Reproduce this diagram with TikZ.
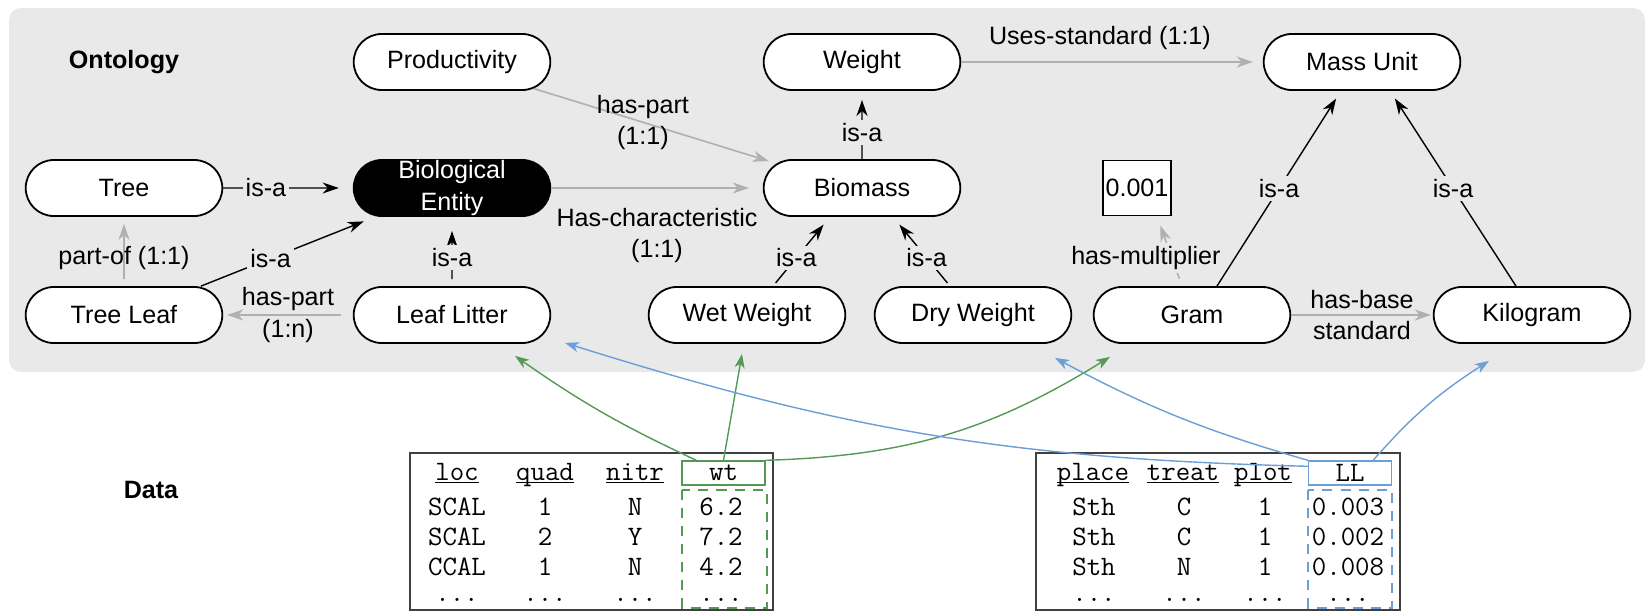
\documentclass[tikz,border=0pt]{standalone}
\usepackage{fontspec}
\setmainfont{Liberation Sans}
\usetikzlibrary{arrows.meta,shapes.misc,calc}

\definecolor{panelgray}{RGB}{233,233,233}
\definecolor{relgray}{RGB}{176,176,176}
\definecolor{mapgreen}{RGB}{84,154,84}
\definecolor{mapblue}{RGB}{108,158,216}

\newcommand{\diagfont}{\fontsize{12.5}{15.5}\selectfont}
\newcommand{\cellfont}{\fontsize{14}{16}\selectfont\ttfamily}

\tikzset{
  concept/.style={draw, line width=0.9pt, rounded rectangle, fill=white,
    minimum width=3.675cm, minimum height=0.98cm, inner ysep=0.5pt, align=center},
  isa/.style={black, line width=0.7pt, -{Stealth[length=8pt,width=5.5pt,inset=2.5pt]}},
  rel/.style={relgray, line width=0.8pt, -{Stealth[length=8pt,width=5.5pt,inset=2.5pt]}},
  lbl/.style={fill=panelgray, text=black, inner sep=1.5pt},
  reltext/.style={text=black, align=center, inner sep=1.5pt},
  maplink/.style={line width=0.7pt, -{Stealth[length=7pt,width=5pt,inset=2pt]}},
  cell/.style={font=\cellfont, anchor=base, inner sep=0pt},
  headbox/.style={draw, line width=0.7pt, font=\cellfont,
    minimum width=1.45cm, minimum height=0.42cm, inner sep=0pt},
  colbox/.style={line width=0.8pt, dash pattern=on 5pt off 4pt},
  frame/.style={line width=0.8pt, black!75}
}

\begin{document}
\begin{tikzpicture}[x=0.0175cm, y=0.0175cm, font=\diagfont]

\useasboundingbox (0,0) rectangle (1649,-612);
\fill[panelgray, rounded corners=6pt] (9,-8) rectangle (1645,-372);

\node[font=\diagfont\bfseries] (ontolabel) at (124,-62) {Ontology};
\node[font=\diagfont\bfseries] (datalabel) at (151,-490) {Data};

% ontology concepts
\node[concept] (prod) at (452,-62) {Productivity};
\node[concept] (weight) at (862,-62) {Weight};
\node[concept] (massunit) at (1362,-62) {Mass Unit};
\node[concept] (tree) at (124,-188) {Tree};
\node[concept, fill=black, text=white, inner ysep=0pt] (bioent) at (452,-188) {Biological\\Entity};
\node[concept] (biomass) at (862,-188) {Biomass};
\node[draw, fill=white, line width=0.7pt, minimum width=1.19cm, minimum height=0.96cm, inner sep=0pt] (mult) at (1137,-188) {0.001};
\node[concept] (treeleaf) at (124,-315) {Tree Leaf};
\node[concept] (litter) at (452,-315) {Leaf Litter};
\node[concept] (wetw) at (747,-315) {Wet Weight};
\node[concept] (dryw) at (973,-315) {Dry Weight};
\node[concept] (gram) at (1192,-315) {Gram};
\node[concept] (kilo) at (1532,-315) {Kilogram};

% relations
\draw[isa, shorten >=7pt] (tree) -- node[lbl, pos=0.33] {is-a} (bioent);
\draw[isa, shorten >=6pt] ($(treeleaf.north)+(77,0)$) -- node[lbl, pos=0.4] {is-a} ($(bioent.south)+(-77,0)$);
\draw[isa, shorten <=3.5pt, shorten >=7pt] (litter) -- node[lbl, pos=0.41] {is-a} (bioent);
\draw[rel, shorten <=3.5pt, shorten >=3.5pt] (treeleaf) -- node[reltext, pos=0.41] {part-of (1:1)} (tree);
\draw[rel, shorten <=6pt, shorten >=2pt] (litter) -- node[reltext, pos=0.5] {has-part\\(1:n)} (treeleaf);
\draw[rel, shorten >=4pt] (prod.-18) -- node[reltext, pos=0.45] {has-part\\(1:1)} (biomass.164);
\draw[rel, shorten >=7pt] (bioent) -- node[reltext, below=8pt, pos=0.5] {Has-characteristic\\(1:1)} (biomass);
\draw[isa, shorten >=4.5pt] (biomass) -- node[lbl, pos=0.39] {is-a} (weight);
\draw[isa, shorten <=2pt, shorten >=5pt] ($(wetw.north)+(26,0)$) -- node[lbl, pos=0.41] {is-a} ($(biomass.south)+(-32,0)$);
\draw[isa, shorten <=2pt, shorten >=5pt] ($(dryw.north)+(-23,0)$) -- node[lbl, pos=0.41] {is-a} ($(biomass.south)+(31,0)$);
\draw[rel, shorten >=5pt] (weight) -- node[reltext, above=4pt, pos=0.46] {Uses-standard (1:1)} (massunit);
\draw[isa, shorten >=4.5pt] ($(gram.north)+(25,0)$) -- node[lbl, pos=0.5] {is-a} ($(massunit.south)+(-21,0)$);
\draw[isa, shorten >=4.5pt] ($(kilo.north)+(-16,0)$) -- node[lbl, pos=0.5] {is-a} ($(massunit.south)+(28,0)$);
\draw[rel, shorten <=4pt, shorten >=5pt] ($(gram.north)+(-10,0)$) -- node[lbl, pos=0.4, xshift=-13pt] {has-multiplier} ($(mult.south)+(20,0)$);
\draw[rel, shorten >=1pt] (gram) -- node[reltext, pos=0.5] {has-base\\standard} (kilo);

% data table 1
\draw[frame] (410,-453) rectangle (773,-610);
\node[cell] (t1loc) at (457,-480) {\underline{\smash{loc}}};
\node[cell] (t1quad) at (545,-480) {\underline{\smash{quad}}};
\node[cell] (t1nitr) at (635,-480) {\underline{\smash{nitr}}};
\node[headbox, draw=mapgreen] (wthead) at (723.5,-473) {wt};
\draw[colbox, mapgreen] (682,-490) rectangle (767,-608);
\foreach \base/\a/\b/\c/\d [count=\i] in {515/SCAL/1/N/6.2, 545/SCAL/2/Y/7.2, 575/CCAL/1/N/4.2} {
  \node[cell] (t1a\i) at (457,-\base) {\a};
  \node[cell] (t1b\i) at (545,-\base) {\b};
  \node[cell] (t1c\i) at (635,-\base) {\c};
  \node[cell] (t1d\i) at (721,-\base) {\d};
}
\node[cell] (t1adots) at (457,-601) {...};
\node[cell] (t1bdots) at (545,-601) {...};
\node[cell] (t1cdots) at (635,-601) {...};
\node[cell] (t1ddots) at (721,-601) {...};

% data table 2
\draw[frame] (1036,-453) rectangle (1400,-610);
\node[cell] (t2place) at (1093,-480) {\underline{\smash{place}}};
\node[cell] (t2treat) at (1183,-480) {\underline{\smash{treat}}};
\node[cell] (t2plot) at (1263,-480) {\underline{\smash{plot}}};
\node[headbox, draw=mapblue] (llhead) at (1350,-473) {LL};
\draw[colbox, mapblue] (1308,-490) rectangle (1392,-608);
\foreach \base/\a/\b/\c/\d [count=\i] in {515/Sth/C/1/0.003, 545/Sth/C/1/0.002, 575/Sth/N/1/0.008} {
  \node[cell] (t2a\i) at (1094,-\base) {\a};
  \node[cell] (t2b\i) at (1184,-\base) {\b};
  \node[cell] (t2c\i) at (1265,-\base) {\c};
  \node[cell] (t2d\i) at (1348,-\base) {\d};
}
\node[cell] (t2adots) at (1094,-601) {...};
\node[cell] (t2bdots) at (1184,-601) {...};
\node[cell] (t2cdots) at (1265,-601) {...};
\node[cell] (t2ddots) at (1348,-601) {...};

% mappings from data to ontology
\draw[maplink, mapgreen] ($(wthead.north west)+(15,0)$) to[bend left=5] ($(litter.south)+(63,-12)$);
\draw[maplink, mapgreen] (wthead.north) -- ($(wetw.south)+(-5,-10)$);
\draw[maplink, mapgreen] (wthead.north east) to[bend right=15] ($(gram.south)+(-82,-13)$);
\draw[maplink, mapblue] ($(llhead.north west)+(0,-6)$) to[bend left=8] ($(litter.south)+(113,1)$);
\draw[maplink, mapblue] (llhead.north west) to[bend left=6] ($(dryw.south)+(82,-14)$);
\draw[maplink, mapblue] ($(llhead.north east)+(-19,0)$) to[bend left=8] ($(kilo.south)+(-43,-17)$);

\end{tikzpicture}
\end{document}
